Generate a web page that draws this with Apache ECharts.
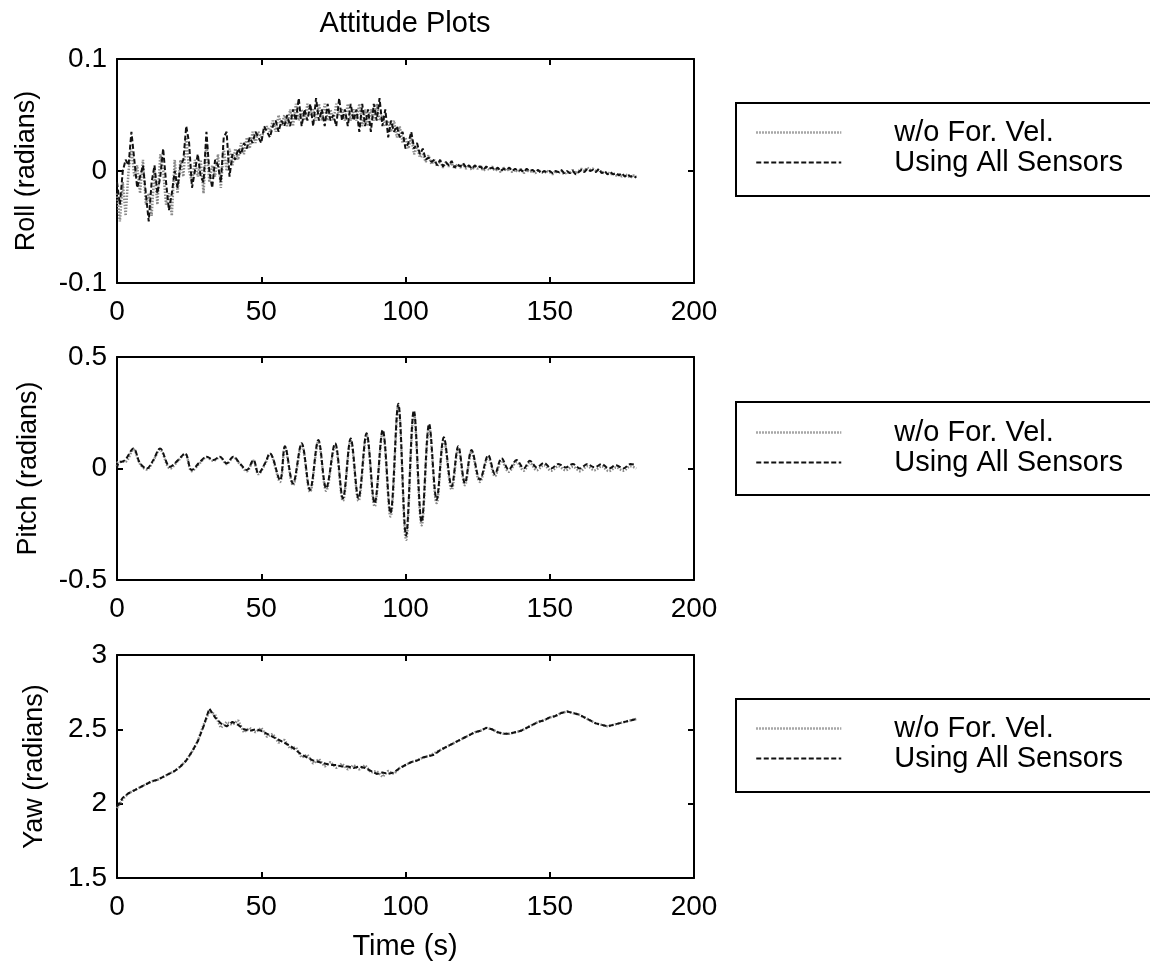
<!DOCTYPE html>
<html>
<head>
<meta charset="utf-8">
<script src="https://cdn.jsdelivr.net/npm/echarts@6/dist/echarts.min.js"></script>
<style>
html,body{margin:0;padding:0;background:#fff;}
#chart{width:1150px;height:966px;}
</style>
</head>
<body>
<div id="chart"></div>
<script>
// ---------------- DATA ----------------
const seriesNames = ['w/o For. Vel.', 'Using All Sensors'];
const xTicks = [0, 50, 100, 150, 200];

// Roll: sampled once per second, t = 0 .. 180 s
const rollTime = Array.from({length: 181}, (_, i) => i); // sampling grid (s)
const rollAll = [
 -0.01,-0.03,0.0,0.01,0.005,0.035,0.01,-0.015,-0.005,0.005,
 -0.02,-0.045,-0.01,0.005,-0.02,-0.005,0.02,-0.01,-0.035,-0.02,
 0.0,-0.015,0.005,0.01,0.04,0.025,-0.015,0.0,0.015,-0.005,
 -0.01,0.035,0.0,-0.015,0.01,0.005,-0.01,0.03,0.035,-0.005,
 0.015,0.01,0.02,0.015,0.025,0.02,0.03,0.025,0.035,0.03,
 0.025,0.04,0.035,0.03,0.04,0.045,0.035,0.045,0.04,0.05,
 0.04,0.055,0.045,0.065,0.04,0.055,0.045,0.06,0.04,0.065,
 0.045,0.055,0.04,0.06,0.045,0.05,0.04,0.065,0.045,0.055,
 0.04,0.06,0.045,0.055,0.035,0.06,0.04,0.055,0.035,0.06,
 0.045,0.065,0.04,0.055,0.03,0.045,0.035,0.04,0.03,0.035,
 0.02,0.025,0.035,0.02,0.025,0.015,0.02,0.01,0.012,0.008,
 0.01,0.005,0.01,0.004,0.008,0.005,0.009,0.003,0.006,0.004,
 0.007,0.003,0.005,0.002,0.005,0.003,0.004,0.001,0.004,0.002,
 0.003,0.001,0.003,0.0,0.002,0.001,0.003,0.0,0.002,0.0,
 0.001,-0.001,0.002,0.0,0.001,-0.001,0.001,-0.002,0.0,-0.001,
 0.0,-0.002,0.0,-0.001,0.001,-0.002,0.0,-0.002,0.0,-0.003,
 -0.001,0.001,-0.001,0.002,0.0,0.001,-0.001,0.002,-0.002,0.0,
 -0.003,-0.001,-0.003,-0.002,-0.004,-0.002,-0.005,-0.003,-0.005,-0.004,
 -0.006
];
const rollWo = [
 -0.02,-0.045,-0.01,-0.04,0.0,0.02,-0.005,0.005,-0.02,0.01,
 -0.03,-0.02,-0.04,0.0,-0.03,0.015,0.0,-0.03,-0.02,-0.04,
 0.01,-0.02,0.01,-0.005,0.03,0.0,-0.01,0.01,-0.005,0.01,
 -0.02,0.025,-0.01,0.005,-0.005,0.015,-0.015,0.02,0.0,0.02,
 0.005,0.02,0.01,0.025,0.015,0.03,0.02,0.035,0.025,0.035,
 0.03,0.035,0.04,0.035,0.045,0.035,0.05,0.04,0.05,0.04,
 0.055,0.04,0.06,0.045,0.055,0.045,0.06,0.05,0.055,0.045,
 0.06,0.045,0.06,0.045,0.055,0.045,0.06,0.05,0.055,0.045,
 0.06,0.045,0.055,0.045,0.06,0.04,0.055,0.04,0.055,0.045,
 0.06,0.045,0.05,0.04,0.045,0.035,0.045,0.03,0.04,0.025,
 0.03,0.02,0.03,0.015,0.022,0.012,0.015,0.008,0.014,0.006,
 0.01,0.004,0.009,0.003,0.008,0.004,0.007,0.002,0.006,0.003,
 0.006,0.002,0.005,0.001,0.004,0.002,0.005,0.0,0.003,0.001,
 0.004,0.0,0.002,-0.001,0.003,0.0,0.002,-0.001,0.001,-0.001,
 0.002,-0.002,0.001,-0.001,0.0,-0.002,0.001,-0.001,-0.002,0.0,
 -0.001,-0.003,0.0,-0.002,0.0,-0.003,-0.001,-0.002,0.001,-0.002,
 0.0,0.002,0.0,0.003,0.001,0.002,0.0,0.001,-0.001,-0.002,
 -0.001,-0.003,-0.002,-0.004,-0.003,-0.005,-0.003,-0.004,-0.006,-0.004,
 -0.005
];

// Pitch: samples at the read-off peaks and troughs (s)
const pitchTime = [
 0,0.5,2.8,5.7,8.0,10.3,12.6,14.9,18.4,21.2,
 23.6,25.9,28.8,31.1,33.4,35.7,38.0,40.3,42.6,45.0,
 47.3,49.0,51.3,53.0,56.5,58.2,61.0,64.0,66.9,69.8,
 72.5,75.6,78.3,81.0,83.7,86.5,89.3,92.1,94.8,97.5,
 100.2,102.9,105.6,108.2,110.8,113.3,116.0,118.3,120.6,122.9,
 125.8,128.7,131.0,133.3,135.8,138.5,141.0,143.1,145.5,148,
 150.5,153,155.5,158,160.5,163,165.5,168,170.5,173,
 175.5,178,180
];
const pitchAll = [
 0.0,0.023,0.038,0.09,0.023,0.0,0.038,0.09,0.008,0.038,
 0.068,-0.007,0.03,0.053,0.038,0.053,0.023,0.053,0.023,-0.007,
 0.038,-0.022,0.023,0.068,-0.052,0.10,-0.067,0.113,-0.096,0.128,
 -0.089,0.113,-0.134,0.135,-0.134,0.158,-0.156,0.173,-0.20,0.29,
 -0.30,0.26,-0.24,0.20,-0.14,0.14,-0.08,0.10,-0.066,0.083,
 -0.05,0.06,-0.025,0.046,-0.005,0.038,0.0,0.035,0.005,0.025,
 0.0,0.02,0.005,0.02,0.0,0.02,0.005,0.02,0.0,0.015,
 0.0,0.02,0.015
];
const pitchWo = [
 0.01,0.03,0.03,0.085,0.02,-0.005,0.035,0.085,0.0,0.035,
 0.065,-0.012,0.025,0.05,0.035,0.05,0.02,0.05,0.02,-0.012,
 0.035,-0.025,0.02,0.065,-0.06,0.095,-0.075,0.105,-0.105,0.12,
 -0.10,0.105,-0.145,0.125,-0.145,0.15,-0.17,0.165,-0.215,0.28,
 -0.32,0.25,-0.255,0.19,-0.155,0.13,-0.095,0.09,-0.075,0.075,
 -0.06,0.05,-0.035,0.035,-0.015,0.028,-0.01,0.025,-0.008,0.015,
 -0.01,0.01,-0.008,0.008,-0.012,0.01,-0.008,0.01,-0.012,0.005,
 -0.01,0.01,0.0
];

// Yaw: sampled every 2 s, t = 0 .. 180 s
const yawTime = Array.from({length: 91}, (_, i) => i * 2); // sampling grid (s)
const yawAll = [
 1.98,2.04,2.07,2.09,2.11,2.13,2.15,2.16,2.18,2.20,
 2.22,2.25,2.29,2.35,2.42,2.52,2.64,2.58,2.54,2.52,
 2.55,2.53,2.50,2.49,2.50,2.49,2.47,2.45,2.43,2.41,
 2.39,2.36,2.33,2.31,2.29,2.28,2.27,2.26,2.26,2.25,
 2.25,2.24,2.25,2.24,2.22,2.20,2.21,2.20,2.21,2.24,
 2.26,2.28,2.29,2.31,2.32,2.33,2.36,2.38,2.40,2.42,
 2.44,2.46,2.48,2.49,2.51,2.50,2.48,2.47,2.47,2.48,
 2.49,2.51,2.53,2.55,2.56,2.58,2.59,2.61,2.62,2.61,
 2.60,2.58,2.56,2.54,2.53,2.52,2.53,2.54,2.55,2.56,
 2.57
];
const yawWo = [
 1.97,2.03,2.07,2.09,2.11,2.13,2.15,2.16,2.18,2.20,
 2.22,2.25,2.29,2.35,2.42,2.53,2.62,2.60,2.51,2.55,
 2.53,2.56,2.48,2.51,2.48,2.51,2.45,2.47,2.41,2.43,
 2.37,2.38,2.31,2.33,2.27,2.30,2.25,2.28,2.24,2.27,
 2.23,2.26,2.23,2.26,2.21,2.22,2.18,2.22,2.20,2.24,
 2.26,2.28,2.29,2.31,2.32,2.34,2.36,2.38,2.40,2.42,
 2.44,2.46,2.48,2.49,2.51,2.50,2.48,2.47,2.47,2.48,
 2.49,2.51,2.53,2.55,2.56,2.58,2.59,2.61,2.62,2.61,
 2.60,2.58,2.56,2.54,2.53,2.52,2.53,2.54,2.55,2.56,
 2.57
];

const panels = [
  {label: 'Roll (radians)',  min: -0.1, max: 0.1, interval: 0.1, t: rollTime,  wo: rollWo,  all: rollAll,  smooth: false},
  {label: 'Pitch (radians)', min: -0.5, max: 0.5, interval: 0.5, t: pitchTime, wo: pitchWo, all: pitchAll, smooth: 0.35},
  {label: 'Yaw (radians)',   min: 1.5,  max: 3,   interval: 0.5, t: yawTime,   wo: yawWo,   all: yawAll,   smooth: false}
];

// ---------------- LAYOUT / STYLE ----------------
const FONT = '"Liberation Sans", Arial, Helvetica, sans-serif';
const grids = [
  {left: 117, top: 59,  width: 577, height: 224},
  {left: 117, top: 357, width: 577, height: 223},
  {left: 117, top: 655, width: 577, height: 223}
];
const yNameX = [27, 29, 35];
const legendTops = [118, 418, 714];
const boxTops = [103, 402, 699];

const woLine = {color: '#8a8a8a', width: 2.5, type: [1.5, 1.5]};
const allLine = {color: '#111', width: 2, type: [5, 2.5]};

const axisLineStyle = {show: true, onZero: false, lineStyle: {color: '#000', width: 2}};
const tickIn = {show: true, inside: true, length: 6, lineStyle: {color: '#000', width: 2}};
const tickFont = {fontFamily: FONT, fontSize: 28, color: '#000'};

const xAxis = [], yAxis = [], series = [], legend = [], graphic = [];
panels.forEach((p, i) => {
  xAxis.push({type: 'value', gridIndex: i, min: xTicks[0], max: xTicks[xTicks.length - 1], interval: 50,
    position: 'bottom', axisLine: axisLineStyle, axisTick: tickIn, splitLine: {show: false},
    axisLabel: Object.assign({margin: 15}, tickFont)});
  yAxis.push({type: 'value', gridIndex: i, min: p.min, max: p.max, interval: p.interval,
    position: 'left', axisLine: axisLineStyle, axisTick: tickIn, splitLine: {show: false},
    axisLabel: Object.assign({margin: 10}, tickFont)});
});
panels.forEach((p, i) => {
  xAxis.push({type: 'value', gridIndex: i, min: xTicks[0], max: xTicks[xTicks.length - 1], interval: 50,
    position: 'top', axisLine: axisLineStyle, axisTick: tickIn, axisLabel: {show: false}, splitLine: {show: false}});
  yAxis.push({type: 'value', gridIndex: i, min: p.min, max: p.max, interval: p.interval,
    position: 'right', axisLine: axisLineStyle, axisTick: tickIn, axisLabel: {show: false}, splitLine: {show: false}});
});

panels.forEach((p, i) => {
  series.push({
    name: seriesNames[0], type: 'line', xAxisIndex: i, yAxisIndex: i,
    data: p.t.map((t, k) => [t, p.wo[k]]), symbol: 'none', showSymbol: false, smooth: p.smooth,
    lineStyle: woLine, itemStyle: {color: '#8a8a8a'}, z: 2
  });
  series.push({
    name: seriesNames[1], type: 'line', xAxisIndex: i, yAxisIndex: i,
    data: p.t.map((t, k) => [t, p.all[k]]), symbol: 'none', showSymbol: false, smooth: p.smooth,
    lineStyle: allLine, itemStyle: {color: '#111'}, z: 3
  });
  legend.push({
    data: [
      {name: seriesNames[0], lineStyle: woLine, itemStyle: {opacity: 0}},
      {name: seriesNames[1], lineStyle: allLine, itemStyle: {opacity: 0}}
    ],
    orient: 'vertical', left: 755, top: legendTops[i], padding: 0,
    itemWidth: 85, itemHeight: 14, itemGap: 1, selectedMode: false,
    itemStyle: {opacity: 0},
    textStyle: {fontFamily: FONT, fontSize: 29, color: '#000', lineHeight: 29, padding: [0, 0, 0, 48]}
  });
  graphic.push({type: 'rect', shape: {x: 736, y: boxTops[i], width: 440, height: 93},
    style: {fill: 'none', stroke: '#000', lineWidth: 2}, silent: true});
  graphic.push({type: 'text', x: yNameX[i], y: grids[i].top + grids[i].height / 2, rotation: Math.PI / 2,
    style: {text: p.label, fontFamily: FONT, fontSize: 27, fill: '#000', textAlign: 'center', textVerticalAlign: 'middle'}});
});
graphic.push({type: 'text', x: 405, y: 24,
  style: {text: 'Attitude Plots', fontFamily: FONT, fontSize: 29, fill: '#000', textAlign: 'center', textVerticalAlign: 'middle'}});
graphic.push({type: 'text', x: 405, y: 947,
  style: {text: 'Time (s)', fontFamily: FONT, fontSize: 29, fill: '#000', textAlign: 'center', textVerticalAlign: 'middle'}});

const chart = echarts.init(document.getElementById('chart'), null, {renderer: 'canvas'});
chart.setOption({
  animation: false,
  backgroundColor: '#fff',
  grid: grids,
  xAxis: xAxis,
  yAxis: yAxis,
  legend: legend,
  series: series,
  graphic: graphic
});
</script>
</body>
</html>
